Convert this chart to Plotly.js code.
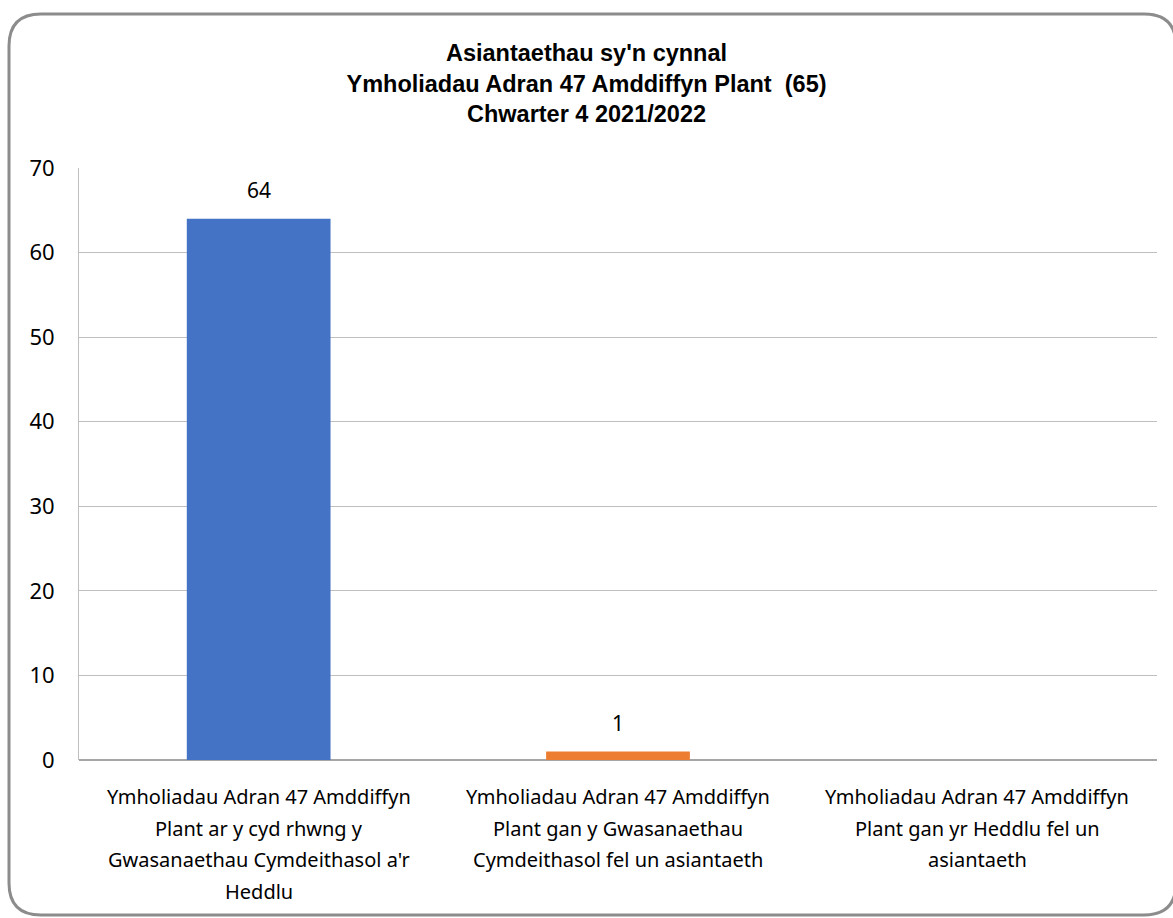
<!DOCTYPE html>
<html>
<head>
<meta charset="utf-8">
<script src="https://cdn.plot.ly/plotly-3.0.1.min.js"></script>
<style>
  html, body { margin: 0; padding: 0; background: #ffffff; }
  #chart { width: 1173px; height: 918px; }
</style>
</head>
<body>
<div id="chart"></div>
<script>
const categories = [
  "Ymholiadau Adran 47 Amddiffyn Plant ar y cyd rhwng y Gwasanaethau Cymdeithasol a'r Heddlu",
  "Ymholiadau Adran 47 Amddiffyn Plant gan y Gwasanaethau Cymdeithasol fel un asiantaeth",
  "Ymholiadau Adran 47 Amddiffyn Plant gan yr Heddlu fel un asiantaeth"
];
const categoryLines = [
  ["Ymholiadau Adran 47 Amddiffyn", "Plant ar y cyd rhwng y", "Gwasanaethau Cymdeithasol a'r", "Heddlu"],
  ["Ymholiadau Adran 47 Amddiffyn", "Plant gan y Gwasanaethau", "Cymdeithasol fel un asiantaeth"],
  ["Ymholiadau Adran 47 Amddiffyn", "Plant gan yr Heddlu fel un", "asiantaeth"]
];
const values = [64, 1, 0];
const barColors = ["#4472C4", "#ED7D31", "#A5A5A5"];
const yTicks = [0, 10, 20, 30, 40, 50, 60, 70];
const titleLines = [
  "Asiantaethau sy'n cynnal",
  "Ymholiadau Adran 47 Amddiffyn Plant  (65)",
  "Chwarter 4 2021/2022"
];

const W = 1173, H = 918;
const M = {l: 79, r: 16, t: 168, b: 158};
const pw = W - M.l - M.r, ph = H - M.t - M.b;
function px(x) { return (x - M.l) / pw; }
function py(y) { return (H - M.b - y) / ph; }

// rounded border path in paper coordinates
const bx0 = 9, by0 = 14, bx1 = 1176, by1 = 915, rad = 32;
const borderPath =
  `M ${px(bx0 + rad)} ${py(by0)} L ${px(bx1 - rad)} ${py(by0)} ` +
  `Q ${px(bx1)} ${py(by0)} ${px(bx1)} ${py(by0 + rad)} ` +
  `L ${px(bx1)} ${py(by1 - rad)} Q ${px(bx1)} ${py(by1)} ${px(bx1 - rad)} ${py(by1)} ` +
  `L ${px(bx0 + rad)} ${py(by1)} Q ${px(bx0)} ${py(by1)} ${px(bx0)} ${py(by1 - rad)} ` +
  `L ${px(bx0)} ${py(by0 + rad)} Q ${px(bx0)} ${py(by0)} ${px(bx0 + rad)} ${py(by0)} Z`;

const fam = "Noto Sans, Open Sans, sans-serif";
const catFont = {family: fam, size: 20, color: "#000000"};
const tickFont = {family: fam, size: 22, color: "#000000"};
const valFont = {family: fam, size: 21, color: "#000000"};

const trace = {
  type: "bar",
  x: categories,
  y: values,
  marker: {color: barColors},
  width: 0.4,
  hoverinfo: "x+y"
};

const annotations = [];
values.forEach((v, i) => {
  if (v > 0) {
    annotations.push({
      x: categories[i], y: v, xref: "x", yref: "y",
      text: String(v), showarrow: false,
      yanchor: "bottom", yshift: 13,
      font: valFont
    });
  }
});
const lineStep = 31.7;
categoryLines.forEach((lines, i) => {
  lines.forEach((ln, j) => {
    annotations.push({
      x: categories[i], y: 0, xref: "x", yref: "paper",
      text: ln, showarrow: false,
      xanchor: "center", yanchor: "top",
      yshift: -21 - j * lineStep,
      font: catFont
    });
  });
});

const layout = {
  width: W, height: H,
  margin: M,
  paper_bgcolor: "#ffffff",
  plot_bgcolor: "#ffffff",
  showlegend: false,
  bargap: 0.6,
  title: {
    text: "<b>" + titleLines.join("<br>") + "</b>",
    x: 0.5, xref: "container", xanchor: "center",
    y: 1 - 61 / H, yref: "container", yanchor: "top",
    font: {family: "Liberation Sans, Arial, sans-serif", size: 23.5, color: "#000000"}
  },
  xaxis: {
    type: "category",
    showgrid: false,
    showline: false,
    ticks: "",
    showticklabels: false,
    automargin: false
  },
  yaxis: {
    range: [0, 70],
    tickvals: yTicks,
    ticktext: yTicks.map(String),
    showgrid: true,
    gridcolor: "#bfbfbf",
    gridwidth: 1,
    zeroline: true,
    zerolinecolor: "#a6a6a6",
    zerolinewidth: 1.5,
    showline: true,
    linecolor: "#bfbfbf",
    linewidth: 1,
    ticks: "",
    ticklabelstandoff: 19,
    tickfont: tickFont,
    automargin: false,
    fixedrange: true
  },
  annotations: annotations,
  shapes: [{
    type: "path", xref: "paper", yref: "paper",
    path: borderPath,
    line: {color: "#8c8c8c", width: 3},
    fillcolor: "rgba(0,0,0,0)",
    layer: "below"
  }]
};

Plotly.newPlot("chart", [trace], layout, {displayModeBar: false, staticPlot: true});
</script>
</body>
</html>
